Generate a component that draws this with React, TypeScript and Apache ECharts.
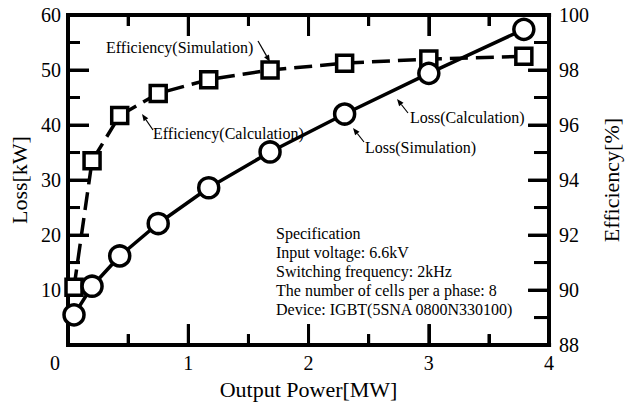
import React, { useEffect, useRef } from "react";
import * as echarts from "echarts";

// ---- data ----
const power = [0.05, 0.2, 0.43, 0.75, 1.17, 1.68, 2.3, 3.0, 3.79]; // MW
const loss = [5.5, 10.7, 16.2, 22.1, 28.6, 35.1, 42.0, 49.4, 57.4]; // kW
const efficiency = [90.1, 94.7, 96.35, 97.15, 97.65, 98.0, 98.25, 98.4, 98.5]; // %

// tick values
const xMajorTicks = [1, 2, 3];
const xMinorTicks = [0.5, 1.5, 2.5, 3.5];
const lossMajorTicks = [10, 20, 30, 40, 50];
const lossMinorTicks = [5, 15, 25, 35, 45, 55];
const effMajorTicks = [90, 92, 94, 96, 98];
const effMinorTicks = [89, 91, 93, 95, 97, 99];

const xAxisName = "Output Power[MW]";
const lossAxisName = "Loss[kW]";
const effAxisName = "Efficiency[%]";

const specLines = [
  "Specification",
  "Input voltage: 6.6kV",
  "Switching frequency: 2kHz",
  "The number of cells per a phase: 8",
  "Device: IGBT(5SNA 0800N330100)",
];

const annotationTexts = [
  "Efficiency(Simulation)",
  "Efficiency(Calculation)",
  "Loss(Calculation)",
  "Loss(Simulation)",
];

// ---- layout (pixel placement of annotations) ----
const annotationLayout = [
  { tx: 106, ty: 47, tail: [258, 41], tip: [270, 62] },
  { tx: 153, ty: 133, tail: [153, 130], tip: [142, 114] },
  { tx: 410, ty: 117, tail: [408, 113], tip: [397, 99] },
  { tx: 365, ty: 147, tail: [364, 142], tip: [353, 128] },
];

const FONT = '"Liberation Serif", "Times New Roman", serif';
const BLACK = "#000";
const MAJOR_LEN = 21;
const X_MINOR_LEN = 11;
const LOSS_MINOR_LEN = 12;
const EFF_MINOR_LEN = 15;
const TICK_W = 3;

function arrow(tail: number[], tip: number[]) {
  const dx = tip[0] - tail[0];
  const dy = tip[1] - tail[1];
  const len = Math.sqrt(dx * dx + dy * dy) || 1;
  const ux = dx / len;
  const uy = dy / len;
  const hl = 7;
  const hw = 2.8;
  const bx = tip[0] - ux * hl;
  const by = tip[1] - uy * hl;
  return [
    {
      type: "line",
      shape: { x1: tail[0], y1: tail[1], x2: bx, y2: by },
      style: { stroke: BLACK, lineWidth: 1.2 },
    },
    {
      type: "polygon",
      shape: {
        points: [
          [tip[0], tip[1]],
          [bx - uy * hw, by + ux * hw],
          [bx + uy * hw, by - ux * hw],
        ],
      },
      style: { fill: BLACK },
    },
  ];
}

// tick marks drawn as thin rectangular symbols placed by the axes' scales
function tickSeries(
  points: number[][],
  yAxisIndex: number,
  size: number[],
  offset: number[]
) {
  return {
    type: "scatter",
    xAxisIndex: 0,
    yAxisIndex,
    data: points,
    symbol: "rect",
    symbolSize: size,
    symbolOffset: offset,
    itemStyle: { color: BLACK, borderWidth: 0, opacity: 1 },
    emphasis: { disabled: true },
    silent: true,
    clip: false,
    z: 4,
  };
}

function makeAxis(extra: any, minorLen: number) {
  return {
    type: "value",
    axisLine: {
      show: true,
      onZero: false,
      lineStyle: { color: BLACK, width: 4, cap: "square" },
    },
    axisTick: {
      show: true,
      inside: true,
      length: MAJOR_LEN,
      lineStyle: { color: BLACK, width: TICK_W },
    },
    minorTick: {
      show: true,
      splitNumber: 2,
      length: minorLen,
      lineStyle: { color: BLACK, width: TICK_W },
    },
    splitLine: { show: false },
    minorSplitLine: { show: false },
    ...extra,
  };
}

export default function App() {
  const ref = useRef<HTMLDivElement>(null);

  useEffect(() => {
    if (!ref.current) return;
    const chart = echarts.init(ref.current, undefined, { renderer: "svg" });

    const labelBase = { color: BLACK, fontFamily: FONT, fontSize: 20 };
    const nameStyle = { color: BLACK, fontFamily: FONT, fontSize: 22 };

    const graphics: any[] = [];
    annotationTexts.forEach((t, i) => {
      const l = annotationLayout[i];
      graphics.push({
        type: "text",
        x: l.tx,
        y: l.ty,
        style: {
          text: t,
          fill: BLACK,
          fontFamily: FONT,
          fontSize: 16,
          align: "left",
          verticalAlign: "middle",
        },
      });
      graphics.push(...arrow(l.tail, l.tip));
    });
    graphics.push({
      type: "text",
      x: 276,
      y: 224,
      style: {
        text: specLines.join("\n"),
        fill: BLACK,
        fontFamily: FONT,
        fontSize: 16,
        lineHeight: 19,
        align: "left",
        verticalAlign: "top",
      },
    });

    const ticks = [
      tickSeries(xMajorTicks.map((v) => [v, 0]), 0, [TICK_W, MAJOR_LEN], [0, -MAJOR_LEN / 2]),
      tickSeries(xMinorTicks.map((v) => [v, 0]), 0, [TICK_W, X_MINOR_LEN], [0, -X_MINOR_LEN / 2]),
      tickSeries(xMajorTicks.map((v) => [v, 60]), 0, [TICK_W, MAJOR_LEN], [0, MAJOR_LEN / 2]),
      tickSeries(xMinorTicks.map((v) => [v, 60]), 0, [TICK_W, X_MINOR_LEN], [0, X_MINOR_LEN / 2]),
      tickSeries(lossMajorTicks.map((v) => [0, v]), 0, [MAJOR_LEN, TICK_W], [MAJOR_LEN / 2, 0]),
      tickSeries(lossMinorTicks.map((v) => [0, v]), 0, [LOSS_MINOR_LEN, TICK_W], [LOSS_MINOR_LEN / 2, 0]),
      tickSeries(effMajorTicks.map((v) => [4, v]), 1, [MAJOR_LEN, TICK_W], [-MAJOR_LEN / 2, 0]),
      tickSeries(effMinorTicks.map((v) => [4, v]), 1, [EFF_MINOR_LEN, TICK_W], [-EFF_MINOR_LEN / 2, 0]),
    ];

    const option: any = {
      animation: false,
      backgroundColor: "#fff",
      grid: {
        left: 68,
        right: 72,
        top: 15,
        bottom: 51,
        show: false,
      },
      xAxis: [
        makeAxis(
          {
            min: 0,
            max: 4,
            interval: 1,
            position: "bottom",
            axisLabel: {
              ...labelBase,
              margin: 8,
              formatter: (v: number) => (v === 0 ? "{o|0}" : String(v)),
              rich: {
                o: { ...labelBase, padding: [0, 26, 0, 0] },
              },
            },
            name: xAxisName,
            nameLocation: "middle",
            nameGap: 27,
            nameTextStyle: nameStyle,
          },
          X_MINOR_LEN
        ),
        makeAxis(
          {
            min: 0,
            max: 4,
            interval: 1,
            position: "top",
            axisLabel: { show: false },
          },
          X_MINOR_LEN
        ),
      ],
      yAxis: [
        makeAxis(
          {
            min: 0,
            max: 60,
            interval: 10,
            position: "left",
            axisLabel: {
              ...labelBase,
              margin: 7,
              formatter: (v: number) => (v === 0 ? "" : String(v)),
            },
            name: lossAxisName,
            nameLocation: "middle",
            nameGap: 34,
            nameRotate: 90,
            nameTextStyle: nameStyle,
          },
          LOSS_MINOR_LEN
        ),
        makeAxis(
          {
            min: 88,
            max: 100,
            interval: 2,
            position: "right",
            axisLabel: { ...labelBase, margin: 10 },
            name: effAxisName,
            nameLocation: "middle",
            nameGap: 38,
            nameRotate: 90,
            nameTextStyle: nameStyle,
          },
          EFF_MINOR_LEN
        ),
      ],
      series: [
        ...ticks,
        {
          type: "line",
          name: "Efficiency",
          xAxisIndex: 0,
          yAxisIndex: 1,
          data: power.map((p, i) => [p, efficiency[i]]),
          symbol: "rect",
          symbolSize: 16,
          showAllSymbol: true,
          clip: false,
          lineStyle: { color: BLACK, width: 3.5, type: [18, 8] },
          itemStyle: { color: "#fff", borderColor: BLACK, borderWidth: 3.5 },
          emphasis: { disabled: true },
          z: 5,
        },
        {
          type: "line",
          name: "Loss",
          xAxisIndex: 0,
          yAxisIndex: 0,
          data: power.map((p, i) => [p, loss[i]]),
          symbol: "circle",
          symbolSize: 20,
          showAllSymbol: true,
          clip: false,
          lineStyle: { color: BLACK, width: 3.5, type: "solid" },
          itemStyle: { color: "#fff", borderColor: BLACK, borderWidth: 3.5 },
          emphasis: { disabled: true },
          z: 6,
        },
      ],
      graphic: graphics,
    };

    chart.setOption(option);
    return () => {
      chart.dispose();
    };
  }, []);

  return (
    <div
      ref={ref}
      style={{ position: "fixed", left: 0, top: 0, width: 630, height: 405 }}
    />
  );
}
